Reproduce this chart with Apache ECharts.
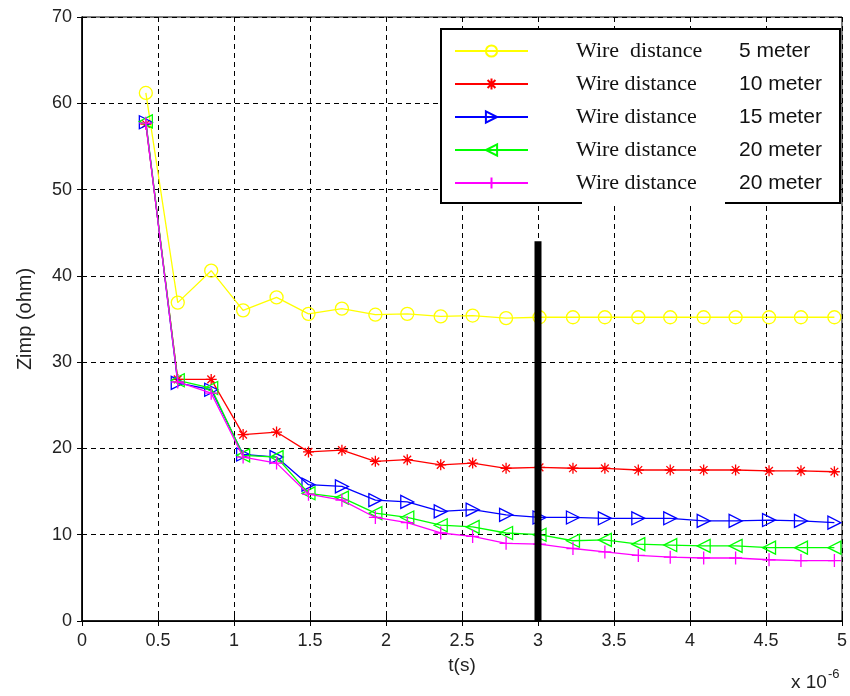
<!DOCTYPE html>
<html><head><meta charset="utf-8">
<script src="https://cdn.jsdelivr.net/npm/echarts@6/dist/echarts.min.js"></script>
<style>html,body{margin:0;padding:0;background:#fff}#c{width:850px;height:696px}</style>
</head><body><div id="c"></div>
<script>
// time axis values (x 10^-6 s)
const tValues = [0.42,0.63,0.85,1.06,1.28,1.49,1.71,1.93,2.14,2.36,2.57,2.79,3.01,3.23,3.44,3.66,3.87,4.09,4.30,4.52,4.73,4.95];
const zimp5   = [61.2,36.9,40.6,36.0,37.5,35.6,36.2,35.5,35.6,35.3,35.4,35.1,35.2,35.2,35.2,35.2,35.2,35.2,35.2,35.2,35.2,35.2];
const zimp10  = [57.6,28.0,28.0,21.6,21.9,19.6,19.8,18.5,18.7,18.1,18.3,17.7,17.8,17.7,17.7,17.5,17.5,17.5,17.5,17.4,17.4,17.3];
const zimp15  = [57.8,27.6,26.8,19.3,19.0,15.8,15.6,14.0,13.8,12.7,12.9,12.3,12.0,12.0,11.9,11.9,11.9,11.6,11.6,11.7,11.6,11.4];
const zimp20  = [57.9,27.9,27.0,19.2,19.0,14.8,14.3,12.5,12.0,11.1,10.9,10.2,10.0,9.3,9.4,8.9,8.8,8.7,8.7,8.5,8.5,8.5];
const zimp20b = [57.7,27.7,26.4,19.0,18.3,14.7,14.0,12.0,11.4,10.2,9.8,9.0,8.9,8.4,8.0,7.6,7.4,7.3,7.3,7.1,7.0,7.0];
const legendPrefix = ['Wire  distance','Wire distance','Wire distance','Wire distance','Wire distance'];
const legendDistance = ['5 meter','10 meter','15 meter','20 meter','20 meter'];
const cursorT = 3;
const cursorRange = [0, 44];

const seriesValues = [zimp5, zimp10, zimp15, zimp20, zimp20b];
const colors = ['#ffff00','#ff0000','#0000ff','#00ff00','#ff00ff'];
const symbols = [
  'circle',
  'path://M5,0 L5,10 M0,5 L10,5 M1.5,1.5 L8.5,8.5 M8.5,1.5 L1.5,8.5',
  'path://M0,0 L10,5 L0,10 Z',
  'path://M10,0 L0,5 L10,10 Z',
  'path://M5,0 L5,10 M0,5 L10,5'
];
const sizes = [13, 11, 13, 13, 13];
const names = legendPrefix.map((p, i) => p + ' ' + legendDistance[i] + (i === 4 ? ' (b)' : ''));

const series = seriesValues.map((vals, i) => ({
  name: names[i],
  type: 'line',
  data: tValues.map((t, j) => [t, vals[j]]),
  symbol: symbols[i],
  symbolSize: sizes[i],
  showAllSymbol: true,
  z: 3 + i,
  lineStyle: { color: colors[i], width: 1.3 },
  itemStyle: { color: 'rgba(255,255,255,0)', borderColor: colors[i], borderWidth: 1.3 },
  emphasis: { disabled: true },
  animation: false
}));
series.push({
  name: 'cursor',
  type: 'line',
  data: [[cursorT, cursorRange[0]], [cursorT, cursorRange[1]]],
  symbol: 'none',
  lineStyle: { color: '#000', width: 7 },
  silent: true,
  z: 8,
  animation: false
});

const labelFont = { color: '#222', fontSize: 18, fontFamily: 'Liberation Sans' };
const gridLine = { show: true, lineStyle: { color: '#000', type: [5, 4], width: 1 } };

const chart = echarts.init(document.getElementById('c'), null, { renderer: 'canvas' });
chart.setOption({
  backgroundColor: '#fff',
  animation: false,
  grid: { left: 82, right: 2, top: 17, bottom: 75, show: true, borderColor: '#000', borderWidth: 1 },
  xAxis: [{
    type: 'value', min: 0, max: 5, interval: 0.5,
    axisLine: { show: true, lineStyle: { color: '#000', width: 1.5 } },
    axisTick: { show: true, inside: true, length: 5, lineStyle: { color: '#000' } },
    axisLabel: Object.assign({ margin: 11 }, labelFont),
    splitLine: gridLine,
    name: 't(s)', nameLocation: 'middle', nameGap: 35,
    nameTextStyle: { color: '#222', fontSize: 19, fontFamily: 'Liberation Sans' }
  }, {
    type: 'value', min: 0, max: 5, interval: 0.5, position: 'top',
    axisLine: { show: true, lineStyle: { color: '#000' } },
    axisTick: { show: true, inside: true, length: 5, lineStyle: { color: '#000' } },
    axisLabel: { show: false }, splitLine: { show: false }
  }],
  yAxis: [{
    type: 'value', min: 0, max: 70, interval: 10,
    axisLine: { show: true, lineStyle: { color: '#000', width: 1.5 } },
    axisTick: { show: true, inside: true, length: 5, lineStyle: { color: '#000' } },
    axisLabel: Object.assign({ margin: 10 }, labelFont),
    splitLine: gridLine,
    name: 'Zimp (ohm)', nameLocation: 'middle', nameGap: 47,
    nameTextStyle: { color: '#222', fontSize: 20, fontFamily: 'Liberation Sans' }
  }, {
    type: 'value', min: 0, max: 70, interval: 10, position: 'right',
    axisLine: { show: true, lineStyle: { color: '#000' } },
    axisTick: { show: true, inside: true, length: 5, lineStyle: { color: '#000' } },
    axisLabel: { show: false }, splitLine: { show: false }
  }],
  legend: {
    show: true,
    data: names,
    orient: 'vertical',
    left: 454, top: 40,
    padding: 0,
    itemWidth: 73, itemHeight: 14, itemGap: 11,
    z: 20,
    selectedMode: false,
    formatter: function (name) {
      const i = names.indexOf(name);
      return '{s|}{a|' + legendPrefix[i] + '}{b|' + legendDistance[i] + '}';
    },
    textStyle: {
      rich: {
        s: { width: 43 },
        a: { width: 163, fontFamily: 'Liberation Serif', fontSize: 22, color: '#111', lineHeight: 22 },
        b: { fontFamily: 'Liberation Sans', fontSize: 21, color: '#111', lineHeight: 22 }
      }
    }
  },
  graphic: [
    { type: 'rect', z: 15, shape: { x: 441, y: 29, width: 399, height: 174 }, style: { fill: '#fff', stroke: null } },
    { type: 'polyline', z: 16, shape: { points: [[582, 203], [441, 203], [441, 29], [840, 29], [840, 203], [725, 203]] },
      style: { stroke: '#000', lineWidth: 2, fill: null } },
    { type: 'text', z: 16, left: 791, top: 668,
      style: { text: '{a|x 10}{b|-6}', rich: {
        a: { fontSize: 19, fontFamily: 'Liberation Sans', fill: '#222', padding: [8, 0, 0, 0] },
        b: { fontSize: 13, fontFamily: 'Liberation Sans', fill: '#222', padding: [0, 0, 8, 1] } } } }
  ],
  series: series
});
</script></body></html>
